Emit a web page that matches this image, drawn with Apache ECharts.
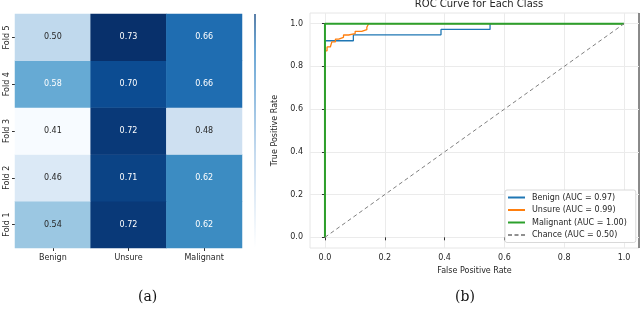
<!DOCTYPE html>
<html><head><meta charset="utf-8">
<script src="https://cdn.jsdelivr.net/npm/echarts@6/dist/echarts.min.js"></script>
<style>html,body{margin:0;padding:0;background:#fff}#c{width:640px;height:309px}</style>
</head><body><div id="c"></div>
<script>
// ---- data ----
var classes = ['Benign', 'Unsure', 'Malignant'];
var folds = ['Fold 1', 'Fold 2', 'Fold 3', 'Fold 4', 'Fold 5'];
// rows = folds (Fold 1..Fold 5), columns = classes
var foldScores = [
  [0.54, 0.72, 0.62],
  [0.46, 0.71, 0.62],
  [0.41, 0.72, 0.48],
  [0.58, 0.70, 0.66],
  [0.50, 0.73, 0.66]
];
var benignFpr = [0, 0, 0.095, 0.095, 0.388, 0.388, 0.552, 0.552, 1];
var benignTpr = [0, 0.92, 0.92, 0.948, 0.948, 0.973, 0.973, 1, 1];
var unsureFpr = [0, 0, 0.007, 0.007, 0.018, 0.023, 0.023, 0.035, 0.035, 0.046, 0.046, 0.062, 0.062, 0.079, 0.079, 0.101, 0.101, 0.123, 0.123, 0.140, 0.140, 0.146, 0.146, 1];
var unsureTpr = [0, 0.873, 0.873, 0.891, 0.891, 0.891, 0.915, 0.915, 0.928, 0.928, 0.936, 0.936, 0.947, 0.947, 0.954, 0.954, 0.964, 0.964, 0.972, 0.972, 0.983, 0.983, 1, 1];
var malignantFpr = [0, 0, 1];
var malignantTpr = [0, 1, 1];
var chanceFpr = [0, 1];
var chanceTpr = [0, 1];
var aucLabels = ['Benign (AUC = 0.97)', 'Unsure (AUC = 0.99)', 'Malignant (AUC = 1.00)', 'Chance (AUC = 0.50)'];
var rocTicks = [0, 0.2, 0.4, 0.6, 0.8, 1.0];

// ---- build ----
function pairs(xs, ys) { return xs.map(function (x, i) { return [x, ys[i]]; }); }
var heat = [];
foldScores.forEach(function (row, r) {
  row.forEach(function (v, c) {
    heat.push({ value: [c, r, v], label: { color: v > 0.56 ? '#ffffff' : '#262626' } });
  });
});
var SOLID = 'path://M0,0h17v2h-17z';
var DASHED = 'path://M0,0h4v2h-4z M6.5,0h4v2h-4z M13,0h4v2h-4z';
var FONT = 'DejaVu Sans';
var chart = echarts.init(document.getElementById('c'), null, { renderer: 'canvas' });
chart.setOption({
  animation: false,
  textStyle: { fontFamily: FONT },
  title: {
    text: 'ROC Curve for Each Class', left: 474, top: -6, textAlign: 'center',
    textStyle: { fontFamily: FONT, fontSize: 10, fontWeight: 'normal', color: '#262626' }
  },
  grid: [
    { left: 15, top: 14, width: 227, height: 234 },
    { left: 310, top: 13, width: 329, height: 235, show: true, borderColor: '#e6e6e6', borderWidth: 1, backgroundColor: '#fff' }
  ],
  visualMap: {
    show: false, type: 'continuous', min: 0.41, max: 0.73, seriesIndex: 0, dimension: 2,
    inRange: { color: ['#f7fbff', '#e1edf8', '#c8dcef', '#a9cfe5', '#72b1d8', '#4393c6', '#2575b7', '#0d559f', '#08306b'] }
  },
  xAxis: [
    {
      gridIndex: 0, type: 'category', data: classes, position: 'bottom',
      axisLine: { show: false }, axisTick: { show: true, alignWithLabel: true, length: 3, lineStyle: { color: '#333' } },
      axisLabel: { fontSize: 8, color: '#262626', margin: 6 }, splitLine: { show: false }
    },
    {
      gridIndex: 1, type: 'value', min: -0.05, max: 1.05,
      name: 'False Positive Rate', nameLocation: 'middle', nameGap: 17,
      nameTextStyle: { fontSize: 8, color: '#262626' },
      axisLine: { show: false },
      axisTick: { show: true, length: 3, customValues: rocTicks, lineStyle: { color: '#333' } },
      axisLabel: { fontSize: 8, color: '#262626', margin: 6, customValues: rocTicks, formatter: function (v) { return v.toFixed(1); } },
      splitLine: { show: true, lineStyle: { color: '#ebebeb', width: 1 } }
    }
  ],
  yAxis: [
    {
      gridIndex: 0, type: 'category', data: folds,
      axisLine: { show: false }, axisTick: { show: true, alignWithLabel: true, length: 3, lineStyle: { color: '#333' } },
      axisLabel: { fontSize: 8, color: '#262626', rotate: 90, margin: 4 }, splitLine: { show: false }
    },
    {
      gridIndex: 1, type: 'value', min: -0.05, max: 1.05,
      name: 'True Positive Rate', nameLocation: 'middle', nameGap: 17,
      nameTextStyle: { fontSize: 8, color: '#262626' },
      axisLine: { show: false },
      axisTick: { show: true, length: 3, customValues: rocTicks, lineStyle: { color: '#333' } },
      axisLabel: { fontSize: 8, color: '#262626', margin: 7, customValues: rocTicks, formatter: function (v) { return v.toFixed(1); } },
      splitLine: { show: true, lineStyle: { color: '#ebebeb', width: 1 } }
    }
  ],
  legend: {
    orient: 'vertical', left: 505, top: 190, width: 130,
    data: [
      { name: aucLabels[0], icon: SOLID },
      { name: aucLabels[1], icon: SOLID },
      { name: aucLabels[2], icon: SOLID },
      { name: aucLabels[3], icon: DASHED }
    ],
    backgroundColor: '#fff', borderColor: '#d9d9d9', borderWidth: 1, borderRadius: 2,
    padding: [3, 9, 3, 3], itemGap: 3.5, itemWidth: 17, itemHeight: 2,
    textStyle: { fontSize: 8, color: '#262626', lineHeight: 9, padding: [0, 0, 0, 2] }
  },
  series: [
    {
      type: 'heatmap', xAxisIndex: 0, yAxisIndex: 0, data: heat,
      label: { show: true, fontSize: 8, formatter: function (p) { return p.value[2].toFixed(2); } },
      itemStyle: { borderWidth: 0 }
    },
    {
      name: aucLabels[0], type: 'line', xAxisIndex: 1, yAxisIndex: 1, data: pairs(benignFpr, benignTpr),
      symbol: 'none', lineStyle: { color: '#1f77b4', width: 1.3 }, itemStyle: { color: '#1f77b4' }, z: 3
    },
    {
      name: aucLabels[1], type: 'line', xAxisIndex: 1, yAxisIndex: 1, data: pairs(unsureFpr, unsureTpr),
      symbol: 'none', lineStyle: { color: '#ff7f0e', width: 1.3 }, itemStyle: { color: '#ff7f0e' }, z: 4
    },
    {
      name: aucLabels[2], type: 'line', xAxisIndex: 1, yAxisIndex: 1, data: pairs(malignantFpr, malignantTpr),
      symbol: 'none', lineStyle: { color: '#2ca02c', width: 2 }, itemStyle: { color: '#2ca02c' }, z: 5
    },
    {
      name: aucLabels[3], type: 'line', xAxisIndex: 1, yAxisIndex: 1, data: pairs(chanceFpr, chanceTpr),
      symbol: 'none', lineStyle: { color: '#808080', width: 1, type: [4, 3] }, itemStyle: { color: '#909090' }, z: 6
    }
  ],
  graphic: [
    {
      type: 'rect', shape: { x: 254, y: 14, width: 2, height: 234 },
      style: { fill: new echarts.graphic.LinearGradient(0, 0, 0, 1, [{ offset: 0, color: '#5a7fa8' }, { offset: 0.15, color: '#6aa6d4' }, { offset: 0.6, color: '#c6dbef' }, { offset: 1, color: '#ffffff' }]) }
    },
    { type: 'line', shape: { x1: 639, y1: 13, x2: 639, y2: 248 }, style: { stroke: '#222', lineWidth: 1 } },
    { type: 'text', left: 138, top: 290, style: { text: '(a)', font: '14px "DejaVu Serif"', fill: '#111' } },
    { type: 'text', left: 455, top: 290, style: { text: '(b)', font: '14px "DejaVu Serif"', fill: '#111' } }
  ]
});
</script></body></html>
